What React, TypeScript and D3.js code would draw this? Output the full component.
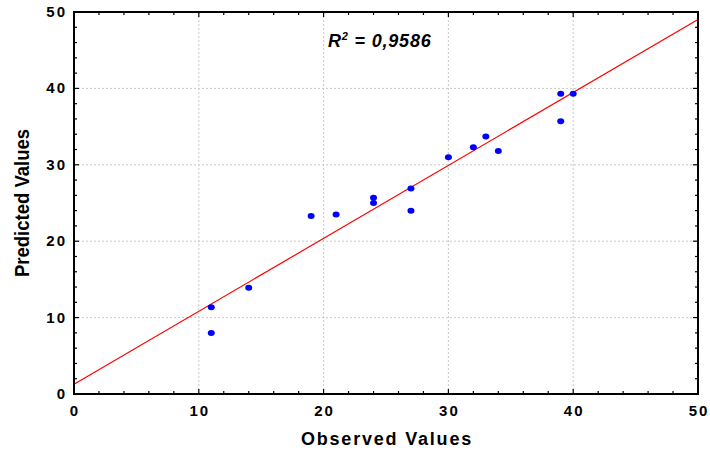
import React, { useEffect, useRef } from 'react';
import * as d3 from 'd3';

const observed = [11, 11, 14, 19, 21, 24, 24, 27, 27, 30, 32, 33, 34, 39, 39, 40];
const predicted = [11.35, 8.0, 13.9, 23.3, 23.5, 25.7, 25.0, 26.9, 24.0, 31.0, 32.3, 33.7, 31.8, 39.3, 35.7, 39.3];
const fitIntercept = 1.27;
const fitSlope = 0.955;
const majorTicks = [0, 10, 20, 30, 40, 50];
const minorTicks = d3.range(0, 51, 2);
const gridTicks = [10, 20, 30, 40];
const r2Label = '0,9586';

const App = () => {
  const svgRef = useRef<SVGSVGElement>(null);

  useEffect(() => {
    const width = 710;
    const height = 450;
    const margin = { top: 12, right: 12, bottom: 56, left: 74 };
    const w = width - margin.left - margin.right;
    const h = height - margin.top - margin.bottom;

    const root = d3.select(svgRef.current);
    root.selectAll('*').remove();
    root.attr('width', width).attr('height', height);

    const svg = root.append('g').attr('transform', `translate(${margin.left},${margin.top})`);

    const x = d3.scaleLinear().domain([0, 50]).range([0, w]);
    const y = d3.scaleLinear().domain([0, 50]).range([h, 0]);
    const font = '"Liberation Sans", Arial, sans-serif';

    // grid
    svg.selectAll('.gx').data(gridTicks).enter().append('line')
      .attr('x1', d => x(d)).attr('x2', d => x(d)).attr('y1', 0).attr('y2', h)
      .attr('stroke', '#c8c8c8').attr('stroke-dasharray', '2,2').attr('stroke-width', 1);
    svg.selectAll('.gy').data(gridTicks).enter().append('line')
      .attr('y1', d => y(d)).attr('y2', d => y(d)).attr('x1', 0).attr('x2', w)
      .attr('stroke', '#c8c8c8').attr('stroke-dasharray', '2,2').attr('stroke-width', 1);

    // inward ticks on all four sides
    const tickLen = (d: number) => (d % 10 === 0 ? 5 : 3);
    svg.selectAll('.tb').data(minorTicks).enter().append('line')
      .attr('x1', d => x(d)).attr('x2', d => x(d)).attr('y1', h).attr('y2', d => h - tickLen(d))
      .attr('stroke', '#000').attr('stroke-width', 1.2);
    svg.selectAll('.tt').data(minorTicks).enter().append('line')
      .attr('x1', d => x(d)).attr('x2', d => x(d)).attr('y1', 0).attr('y2', d => tickLen(d))
      .attr('stroke', '#000').attr('stroke-width', 1.2);
    svg.selectAll('.tl').data(minorTicks).enter().append('line')
      .attr('y1', d => y(d)).attr('y2', d => y(d)).attr('x1', 0).attr('x2', d => tickLen(d))
      .attr('stroke', '#000').attr('stroke-width', 1.2);
    svg.selectAll('.tr').data(minorTicks).enter().append('line')
      .attr('y1', d => y(d)).attr('y2', d => y(d)).attr('x1', w).attr('x2', d => w - tickLen(d))
      .attr('stroke', '#000').attr('stroke-width', 1.2);

    // regression line
    svg.append('line')
      .attr('x1', x(0)).attr('y1', y(fitIntercept))
      .attr('x2', x(50)).attr('y2', y(fitIntercept + fitSlope * 50))
      .attr('stroke', '#ff0000').attr('stroke-width', 1.2);

    // points
    svg.selectAll('.pt').data(observed).enter().append('ellipse')
      .attr('cx', d => x(d)).attr('cy', (_d, i) => y(predicted[i]))
      .attr('rx', 3.5).attr('ry', 3)
      .attr('fill', '#0000ff');

    // frame
    svg.append('rect').attr('x', 0).attr('y', 0).attr('width', w).attr('height', h)
      .attr('fill', 'none').attr('stroke', '#000').attr('stroke-width', 2);

    // tick labels
    svg.selectAll('.lx').data(majorTicks).enter().append('text')
      .attr('x', d => x(d) + 1).attr('y', h + 22)
      .attr('text-anchor', 'middle').attr('font-family', font).attr('font-weight', 'bold')
      .attr('font-size', 15).attr('letter-spacing', 2).text(d => d);
    svg.selectAll('.ly').data(majorTicks).enter().append('text')
      .attr('x', -7).attr('y', d => y(d) + 5)
      .attr('text-anchor', 'end').attr('font-family', font).attr('font-weight', 'bold')
      .attr('font-size', 15).attr('letter-spacing', 2).text(d => d);

    // axis titles
    svg.append('text')
      .attr('x', w / 2 + 1).attr('y', h + 51)
      .attr('text-anchor', 'middle').attr('font-family', font).attr('font-weight', 'bold')
      .attr('font-size', 18).attr('letter-spacing', 1.8).text('Observed Values');
    svg.append('text')
      .attr('transform', 'rotate(-90)')
      .attr('x', -h / 2).attr('y', -45)
      .attr('text-anchor', 'middle').attr('font-family', font).attr('font-weight', 'bold')
      .attr('font-size', 20).attr('textLength', 148).attr('lengthAdjust', 'spacingAndGlyphs')
      .text('Predicted Values');

    // R² annotation
    const r2 = svg.append('text')
      .attr('x', 254).attr('y', 35)
      .attr('font-family', font).attr('font-weight', 'bold').attr('font-style', 'italic')
      .attr('font-size', 18).attr('letter-spacing', 0.8);
    r2.append('tspan').text('R');
    r2.append('tspan').attr('font-size', 11).attr('dy', -7).text('2');
    r2.append('tspan').attr('dy', 7).text(` = ${r2Label}`);
  }, []);

  return <svg ref={svgRef} style={{ position: 'absolute', left: 0, top: 0 }}></svg>;
};

export default App;
